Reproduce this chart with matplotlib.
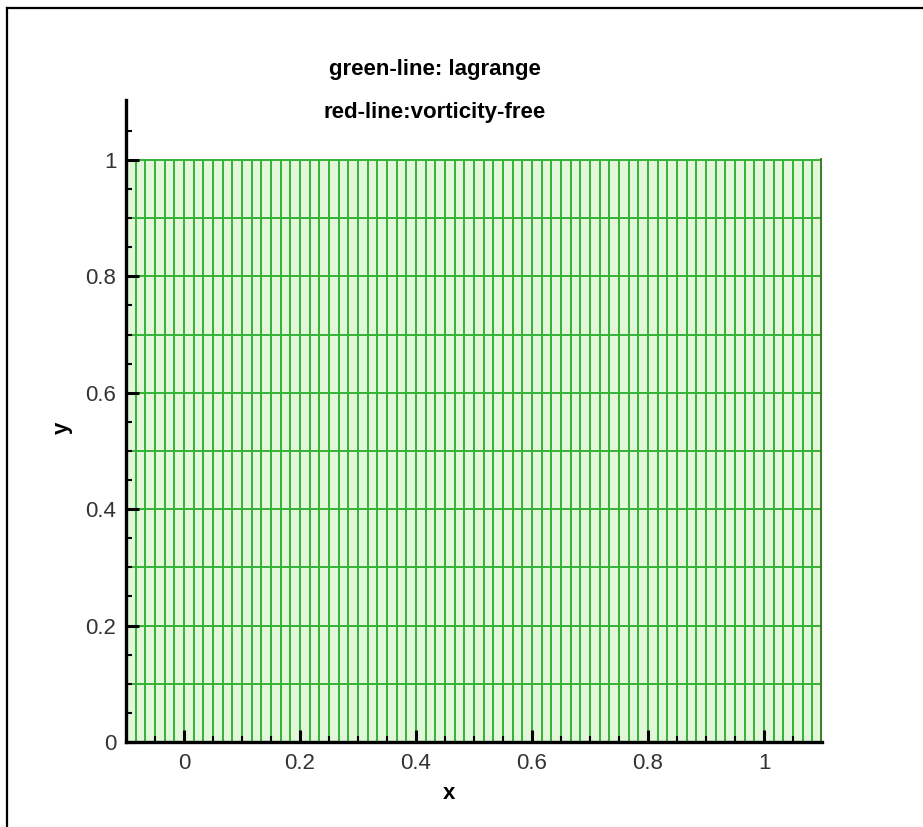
import numpy as np
import matplotlib
matplotlib.use('Agg')
import matplotlib.pyplot as plt
from matplotlib.lines import Line2D
from matplotlib.ticker import FixedLocator

plt.rcParams['font.family'] = ['Liberation Sans', 'DejaVu Sans']

# Structured mesh of the lagrange zone (uniform in x and y)
X_MIN, X_MAX, NX = -0.1, 1.1, 73
Y_MIN, Y_MAX, NY = 0.0, 1.0, 11
x_nodes = np.linspace(X_MIN, X_MAX, NX)
y_nodes = np.linspace(Y_MIN, Y_MAX, NY)

TICKS = [0, 0.2, 0.4, 0.6, 0.8, 1.0]
TICK_LABELS = ['0', '0.2', '0.4', '0.6', '0.8', '1']
X_MINOR = [-0.05, 0.05, 0.1, 0.15, 0.25, 0.3, 0.35, 0.45, 0.5, 0.55, 0.65, 0.7,
           0.75, 0.85, 0.9, 0.95, 1.05]
Y_MINOR = [0.05, 0.1, 0.15, 0.25, 0.3, 0.35, 0.45, 0.5, 0.55, 0.65, 0.7, 0.75,
           0.85, 0.9, 0.95, 1.05]
TITLE_LINES = ['green-line: lagrange', 'red-line:vorticity-free']
MESH_COLOR = '#34b434'
EDGE_COLOR = '#3a7d22'

fig = plt.figure(figsize=(9.23, 8.27), dpi=100)
ax = fig.add_axes([0.1365, 0.1028, 0.8906 - 0.1365, 0.8791 - 0.1028])

X, Y = np.meshgrid(x_nodes, y_nodes)
ax.fill_between([X_MIN, X_MAX], Y_MIN, Y_MAX, color='#e2f6da', lw=0, zorder=0)
ax.plot(X, Y, color=MESH_COLOR, lw=1.4, zorder=1)
ax.plot(X.T, Y.T, color=MESH_COLOR, lw=1.4, zorder=1)
ax.plot([x_nodes[-1]] * 2, [y_nodes[0], y_nodes[-1]], color=EDGE_COLOR, lw=2.8, zorder=2)

ax.set_xlim(X_MIN, X_MAX)
ax.set_ylim(0, 1.103)
for side in ('top', 'right'):
    ax.spines[side].set_visible(False)
for side in ('left', 'bottom'):
    ax.spines[side].set_linewidth(2.4)
    ax.spines[side].set_zorder(5)

ax.set_xticks(TICKS)
ax.set_xticklabels(TICK_LABELS)
ax.set_yticks(TICKS)
ax.set_yticklabels(TICK_LABELS)
ax.xaxis.set_minor_locator(FixedLocator(X_MINOR))
ax.yaxis.set_minor_locator(FixedLocator(Y_MINOR))
ax.tick_params(which='major', direction='in', length=9, width=2.2,
               labelsize=16, labelcolor='#333333', pad=8)
ax.tick_params(which='minor', direction='in', length=4.5, width=1.5)
ax.tick_params(axis='y', which='major', pad=7)

ax.set_xlabel('x', fontsize=16, fontweight='bold')
ax.set_ylabel('y', fontsize=16, fontweight='bold')
ax.xaxis.set_label_coords(0.464, -0.064)
ax.yaxis.set_label_coords(-0.076, 0.49)

fig.text(0.471, 0.916, TITLE_LINES[0], ha='center', va='center',
         fontsize=16, fontweight='bold')
fig.text(0.471, 0.864, TITLE_LINES[1], ha='center', va='center',
         fontsize=16, fontweight='bold')

# outer frame (top and left edges)
fx, fy = 7.5 / 923, 1 - 7.5 / 827
fig.add_artist(Line2D([fx, 1], [fy, fy], color='black', lw=1.6, transform=fig.transFigure))
fig.add_artist(Line2D([fx, fx], [0, fy], color='black', lw=1.6, transform=fig.transFigure))

fig.savefig('out.png', dpi=100)
